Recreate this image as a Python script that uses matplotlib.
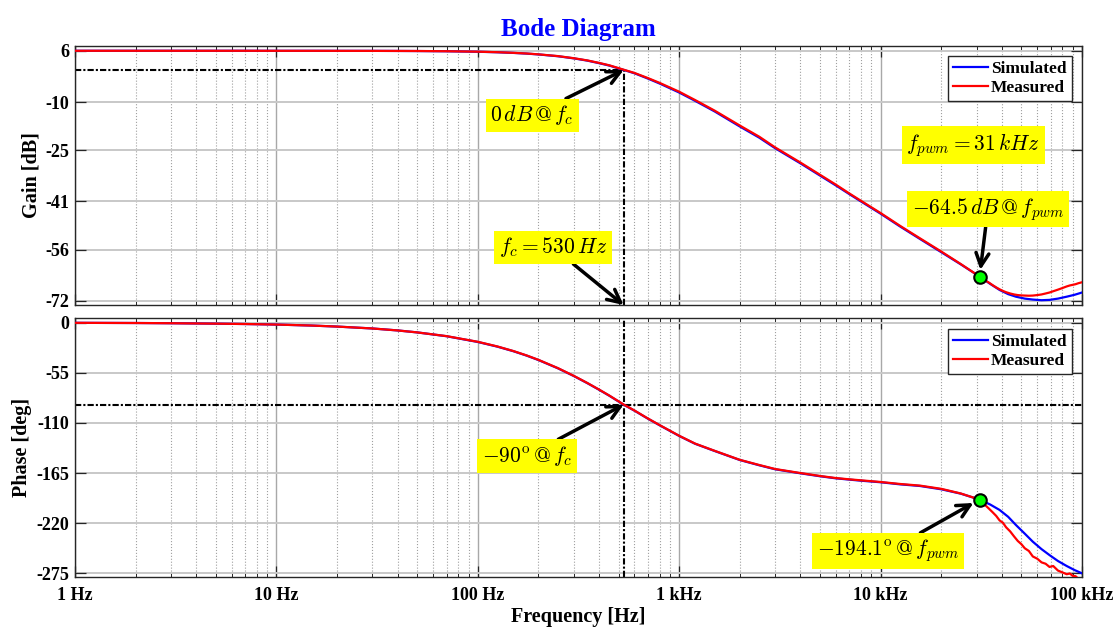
import matplotlib
matplotlib.use("Agg")
import matplotlib.pyplot as plt
from matplotlib.ticker import FixedLocator, FixedFormatter, LogLocator, NullFormatter

# frequency response (Hz, dB, deg)
freq_sim = [1, 2, 3, 5, 7, 10, 15, 20, 30, 40, 50, 70, 100, 125, 150, 175, 200, 250,
            300, 350, 400, 450, 530, 600, 700, 800, 1000, 1200, 1500, 2000, 2500,
            3000, 4000, 5000, 6000, 7000, 8000, 10000, 12500, 15700, 20000, 25000,
            31000, 35000, 39000, 43000, 47000, 52000, 57000, 63000, 69000, 76000,
            84000, 92000, 100000]
gain_sim = [6.02, 6.02, 6.02, 6.02, 6.02, 6.01, 6.01, 6.0, 5.99, 5.97, 5.94, 5.87,
            5.72, 5.56, 5.36, 5.14, 4.88, 4.32, 3.65, 2.95, 2.16, 1.4, 0.05, -1.0,
            -2.66, -4.2, -7.0, -9.6, -12.9, -17.6, -21.1, -24.4, -29.1, -32.9, -36.0,
            -38.7, -41.0, -44.8, -48.8, -52.7, -56.8, -60.6, -64.4, -66.7, -68.6,
            -69.9, -70.7, -71.3, -71.6, -71.8, -71.7, -71.3, -70.7, -70.1, -69.4]
phase_sim = [-0.2, -0.4, -0.64, -1.1, -1.5, -2.1, -3.2, -4.3, -6.4, -8.55, -10.7,
             -14.9, -21.2, -26.3, -31.3, -36.2, -41.0, -50.1, -58.6, -66.4, -73.6,
             -80.2, -90.0, -96.6, -105.4, -112.6, -124.3, -132.9, -140.8, -150.7,
             -156.5, -160.9, -165.3, -168.5, -170.8, -172.2, -173.4, -175.1, -177.4,
             -179.2, -182.8, -187.6, -194.1, -199.5, -205.5, -213.0, -222.0, -231.5,
             -240.3, -248.5, -255.0, -261.5, -267.0, -271.5, -275.0]

freq_meas = [1, 2, 3, 5, 7, 10, 15, 20, 30, 40, 50, 70, 100, 125, 150, 175, 200, 250,
             300, 350, 400, 450, 530, 600, 700, 800, 1000, 1200, 1500, 2000, 2500,
             3000, 4000, 5000, 6000, 7000, 8000, 10000, 12500, 15700, 20000, 25000,
             31000, 32000, 33000, 34500, 36000, 37500, 39000, 40500, 42000, 44000,
             46000, 48000, 50000, 52000, 54500, 57000, 60000, 63000, 66000, 69000,
             72000, 76000, 80000, 84000, 87000, 90000, 93000, 96000, 100000]
gain_meas = [6.02, 6.02, 6.02, 6.02, 6.02, 6.01, 6.01, 6.0, 5.99, 5.97, 5.95, 5.88,
             5.74, 5.58, 5.38, 5.17, 4.91, 4.36, 3.7, 3.01, 2.24, 1.49, 0.12, -0.9,
             -2.5, -4.0, -6.75, -9.35, -12.65, -17.3, -20.8, -24.15, -28.85, -32.65,
             -35.75, -38.5, -40.8, -44.6, -48.6, -52.5, -56.6, -60.5, -64.4, -65.0,
             -65.6, -66.3, -67.1, -67.8, -68.4, -68.9, -69.3, -69.7, -70.0, -70.2,
             -70.3, -70.35, -70.4, -70.35, -70.2, -70.0, -69.7, -69.4, -69.0, -68.5,
             -68.0, -67.5, -67.2, -67.0, -66.8, -66.5, -66.2]
phase_meas = [-0.2, -0.4, -0.64, -1.1, -1.5, -2.1, -3.2, -4.3, -6.4, -8.55, -10.7,
              -14.8, -21.0, -26.1, -31.1, -36.0, -40.8, -49.9, -58.4, -66.2, -73.4,
              -80.0, -89.8, -96.4, -105.2, -112.4, -124.1, -132.7, -140.6, -150.5,
              -156.2, -160.6, -165.0, -168.2, -170.5, -171.9, -173.0, -174.8, -177.0,
              -178.8, -182.3, -187.4, -194.1, -197.0, -200.0, -204.0, -208.0, -212.0,
              -217.0, -219.5, -224.5, -229.0, -234.5, -239.5, -243.0, -247.5, -250.5,
              -256.5, -259.0, -263.0, -264.5, -268.0, -267.0, -272.0, -274.0, -276.0,
              -275.2, -277.8, -278.2, -281.0, -283.0]

fc = 530
f_pwm = 31000
gain_fc = 0
phase_fc = -90
gain_pwm = -64.5
phase_pwm = -194.1

gain_ticks = [6, -10, -25, -41, -56, -72]
phase_ticks = [0, -55, -110, -165, -220, -275]
freq_ticks = [1, 10, 100, 1000, 10000, 100000]
freq_labels = ['1 Hz', '10 Hz', '100 Hz', '1 kHz', '10 kHz', '100 kHz']

plt.rcParams['font.family'] = ['Liberation Serif', 'DejaVu Serif']
plt.rcParams['font.weight'] = 'bold'
plt.rcParams['mathtext.fontset'] = 'cm'
plt.rcParams['axes.unicode_minus'] = False

dashdot = (0, (3, 1, 1, 1))
box = dict(boxstyle='square,pad=0.22', fc='yellow', ec='none')
arrow = dict(arrowstyle='->,head_length=0.6,head_width=0.3', lw=2.5, color='black',
             shrinkA=0, shrinkB=0)


def style_axes(ax, ticks, ylim):
    ax.set_xscale('log')
    ax.set_xlim(1, 1e5)
    ax.set_ylim(ylim)
    ax.yaxis.set_major_locator(FixedLocator(ticks))
    ax.xaxis.set_major_locator(FixedLocator(freq_ticks))
    ax.xaxis.set_minor_locator(LogLocator(base=10, subs=range(2, 10), numticks=20))
    ax.xaxis.set_minor_formatter(NullFormatter())
    ax.tick_params(which='both', direction='in', top=True, right=True,
                   labelsize=13, color='#262626')
    ax.tick_params(which='major', length=8, width=0.9)
    ax.tick_params(which='minor', length=3.5, width=0.7)
    ax.tick_params(axis='y', pad=4)
    ax.tick_params(axis='x', pad=7)
    ax.yaxis.grid(True, which='major', color='#c8c8c8', lw=1.4, ls='-')
    ax.xaxis.grid(True, which='major', color='#a8a8a8', lw=1.0, ls='-')
    ax.xaxis.grid(True, which='minor', color='#a0a0a0', lw=0.8, ls=':')
    ax.set_axisbelow(True)
    for s in ax.spines.values():
        s.set_color('#262626')
        s.set_linewidth(1.0)


fig = plt.figure(figsize=(11.16, 6.28), dpi=100)
ax1 = fig.add_axes([0.0672, 0.5143, 0.9023, 0.4129])
ax2 = fig.add_axes([0.0672, 0.0807, 0.9023, 0.4125])

style_axes(ax1, gain_ticks, (-73.3, 7.6))
style_axes(ax2, phase_ticks, (-279.4, 4.8))
ax1.tick_params(labelbottom=False)
ax2.xaxis.set_major_formatter(FixedFormatter(freq_labels))

# gain
ax1.hlines(gain_fc, 1, fc, colors='k', lw=1.5, linestyles=dashdot, zorder=2)
ax1.vlines(fc, -73.3, gain_fc, colors='k', lw=1.5, linestyles=dashdot, zorder=2)
ax1.plot(freq_sim, gain_sim, color='blue', lw=1.6, label='Simulated', zorder=3)
ax1.plot(freq_meas, gain_meas, color='red', lw=1.6, label='Measured', zorder=3)
ax1.plot(f_pwm, gain_pwm, 'o', mfc='lime', mec='k', ms=9, mew=1.5, zorder=5)

ax1.annotate(r'$0\,dB\,@\,f_c$', xy=(fc, gain_fc), xytext=(186, -14.1),
             fontsize=15.5, ha='center', va='center', bbox=box, arrowprops=arrow)
ax1.annotate(r'$f_c = 530\,Hz$', xy=(fc, -73.3), xytext=(236, -55.3),
             fontsize=15.5, ha='center', va='center', bbox=box, arrowprops=arrow)
ax1.text(28800, -23.4, r'$f_{pwm} = 31\,kHz$', fontsize=15.5, ha='center',
         va='center', bbox=box)
ax1.annotate(r'$-64.5\,dB\,@\,f_{pwm}$', xy=(f_pwm, gain_pwm), xytext=(34100, -43.4),
             fontsize=15.5, ha='center', va='center', bbox=box,
             arrowprops=dict(arrow, shrinkB=5))

ax1.set_ylabel('Gain [dB]', fontsize=14.5, fontweight='bold', labelpad=3)
ax1.set_title('Bode Diagram', color='blue', fontsize=18, fontweight='bold', pad=7)
leg1 = ax1.legend(loc='upper right', fancybox=False, edgecolor='#262626', framealpha=1,
                  fontsize=12.5, handlelength=2.0, handletextpad=0.15,
                  labelspacing=0.15, borderpad=0.3, borderaxespad=0.6)
leg1.get_frame().set_linewidth(1.0)

# phase
ax2.axhline(phase_fc, color='k', lw=1.5, ls=dashdot, zorder=2)
ax2.axvline(fc, color='k', lw=1.5, ls=dashdot, zorder=2)
ax2.plot(freq_sim, phase_sim, color='blue', lw=1.6, label='Simulated', zorder=3)
ax2.plot(freq_meas, phase_meas, color='red', lw=1.6, label='Measured', zorder=3)
ax2.plot(f_pwm, phase_pwm, 'o', mfc='lime', mec='k', ms=9, mew=1.5, zorder=5)

ax2.annotate(r'$-90^{\mathrm{o}}\,@\,f_c$', xy=(fc, phase_fc), xytext=(175, -146.3),
             fontsize=15.5, ha='center', va='center', bbox=box, arrowprops=arrow)
ax2.annotate(r'$-194.1^{\mathrm{o}}\,@\,f_{pwm}$', xy=(f_pwm, phase_pwm),
             xytext=(10900, -250.5), fontsize=15.5, ha='center', va='center', bbox=box,
             arrowprops=dict(arrow, shrinkB=5))

ax2.set_ylabel('Phase [deg]', fontsize=14.5, fontweight='bold', labelpad=3)
ax2.set_xlabel('Frequency [Hz]', fontsize=14.5, fontweight='bold', labelpad=2)
leg2 = ax2.legend(loc='upper right', fancybox=False, edgecolor='#262626', framealpha=1,
                  fontsize=12.5, handlelength=2.0, handletextpad=0.15,
                  labelspacing=0.15, borderpad=0.3, borderaxespad=0.6)
leg2.get_frame().set_linewidth(1.0)

fig.savefig('out.png', dpi=100)
